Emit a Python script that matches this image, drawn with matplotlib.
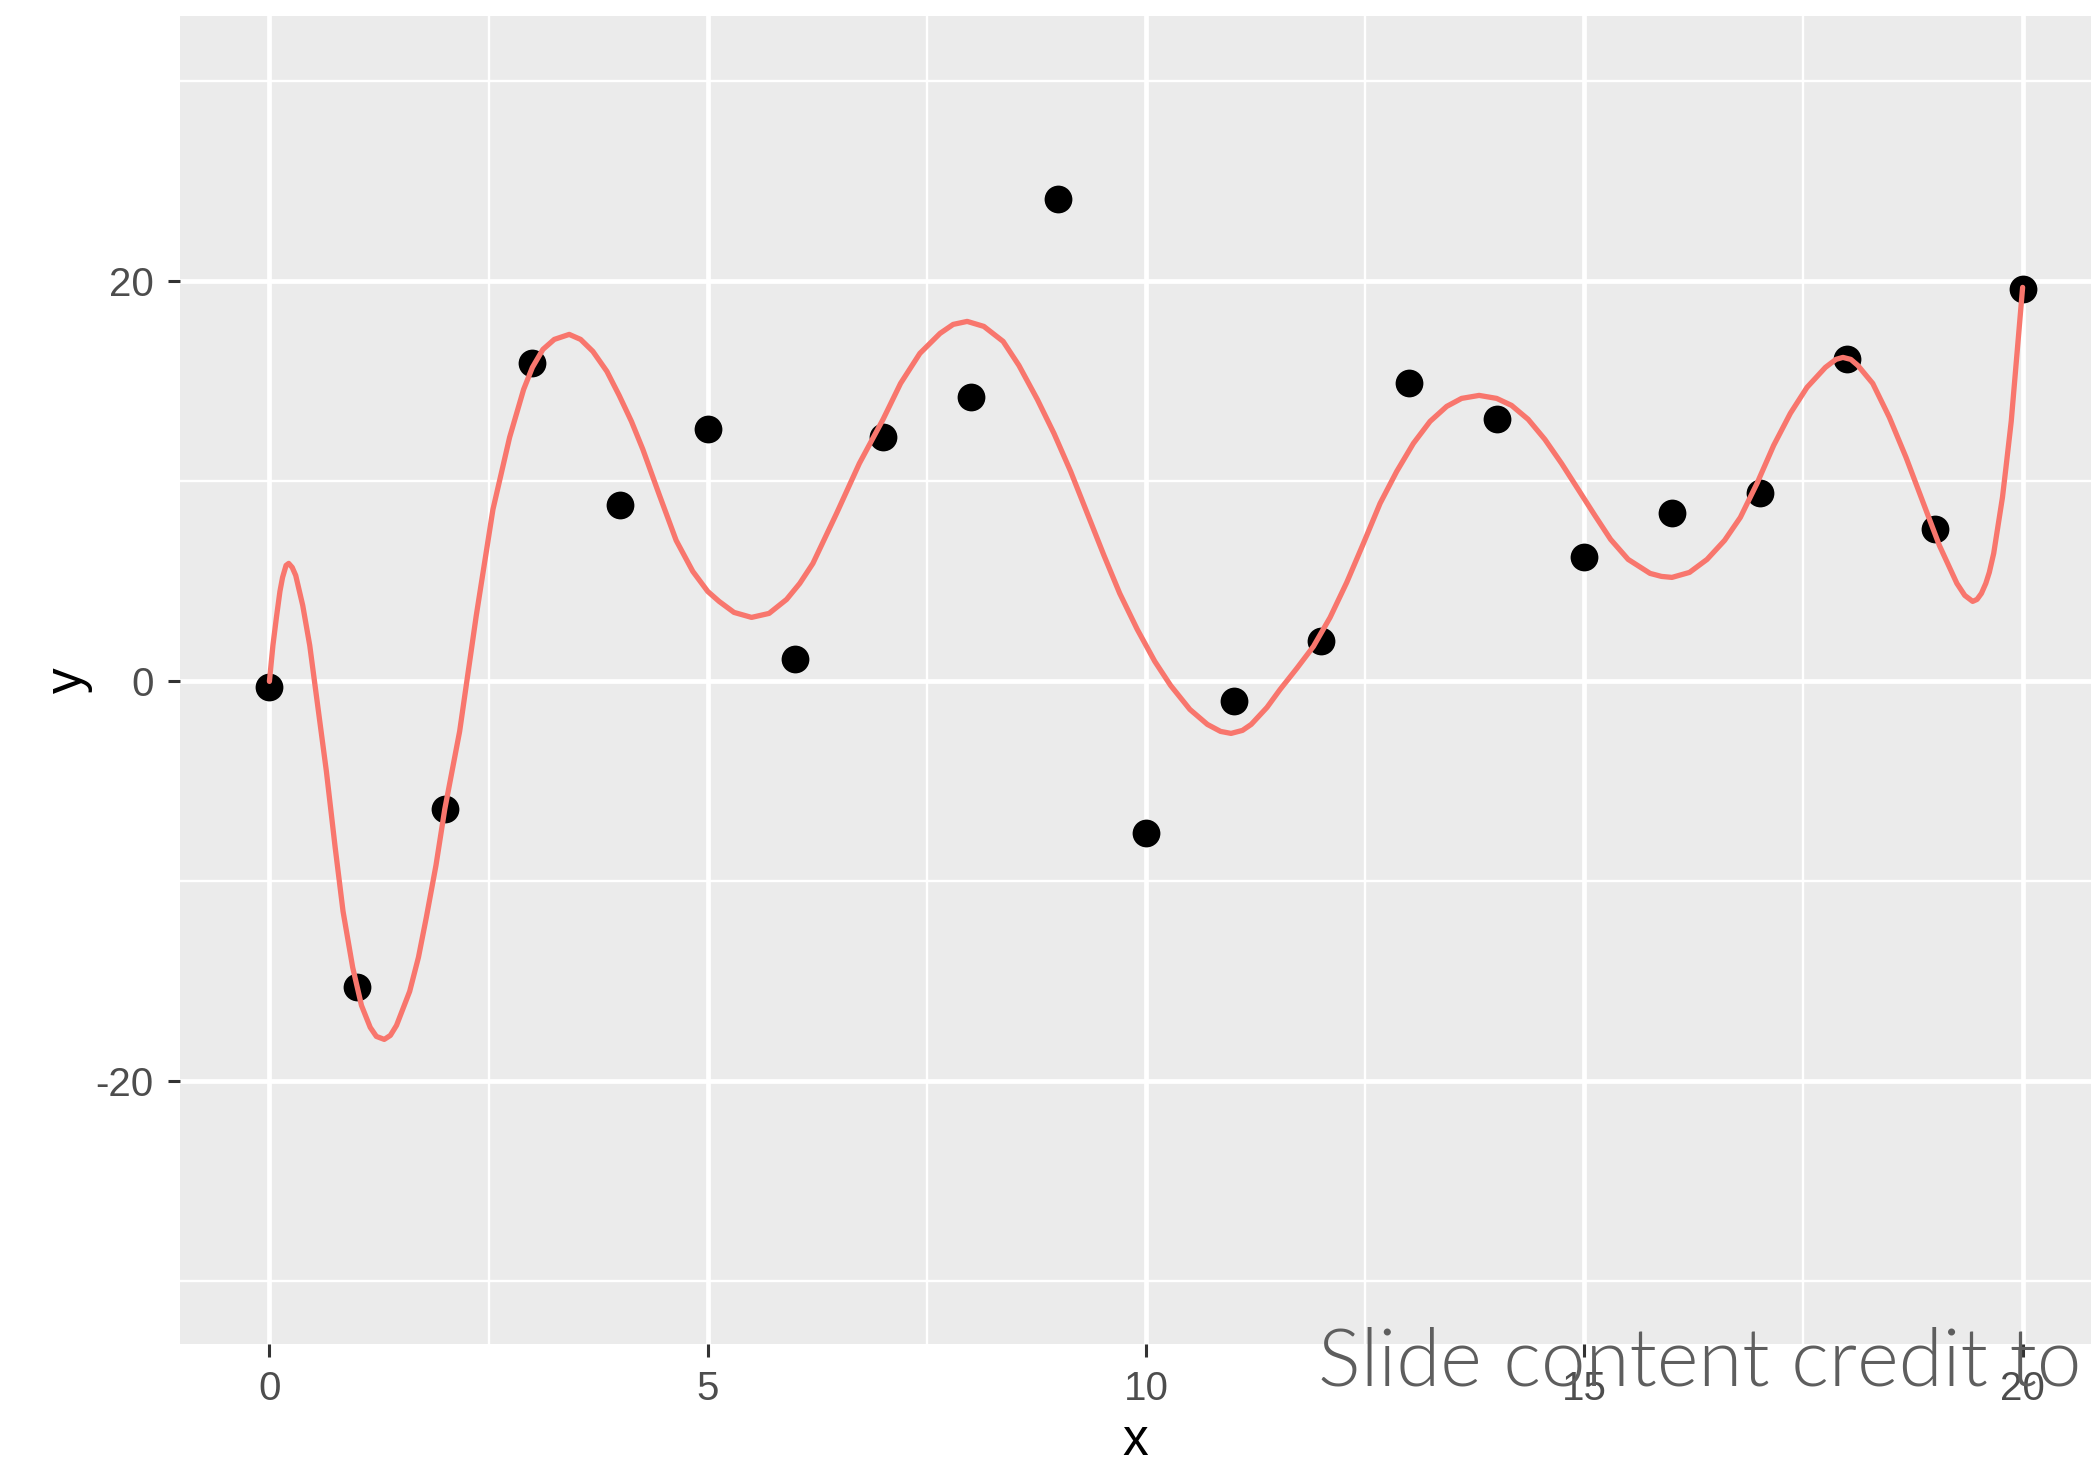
import matplotlib
matplotlib.use("Agg")
import matplotlib.pyplot as plt

plt.rcParams["axes.unicode_minus"] = False

# observed points
x_obs = [0, 1, 2, 3, 4, 5, 6, 7, 8, 9, 10, 11, 12, 13, 14, 15, 16, 17, 18, 19, 20]
y_obs = [-0.3, -15.3, -6.4, 15.9, 8.8, 12.6, 1.1, 12.2, 14.2, 24.1, -7.6,
         -1.0, 2.0, 14.9, 13.1, 6.2, 8.4, 9.4, 16.1, 7.6, 19.6]

# fitted curve, sampled along x
curve_x = [0.00, 0.04, 0.08, 0.12, 0.15, 0.19, 0.22, 0.26, 0.30, 0.38, 0.46,
           0.55, 0.65, 0.75, 0.84, 0.95, 1.05, 1.15, 1.22, 1.31, 1.38, 1.45,
           1.60, 1.70, 1.79, 1.90, 2.00, 2.17, 2.36, 2.55, 2.74, 2.90, 3.00,
           3.12, 3.25, 3.42, 3.55, 3.69, 3.85, 3.99, 4.13, 4.26, 4.45, 4.64,
           4.83, 5.00, 5.13, 5.30, 5.50, 5.70, 5.90, 6.05, 6.20, 6.47, 6.73,
           7.00, 7.20, 7.42, 7.65, 7.80, 7.96, 8.15, 8.37, 8.55, 8.76, 8.95,
           9.14, 9.33, 9.52, 9.70, 9.90, 10.10, 10.28, 10.50, 10.70, 10.85,
           10.97, 11.10, 11.20, 11.38, 11.53, 11.72, 11.91, 12.10, 12.29, 12.48,
           12.67, 12.86, 13.05, 13.24, 13.43, 13.60, 13.80, 14.00, 14.17, 14.36,
           14.55, 14.74, 14.93, 15.12, 15.30, 15.50, 15.75, 15.88, 16.00, 16.20,
           16.40, 16.60, 16.78, 16.97, 17.16, 17.35, 17.54, 17.75, 17.87, 17.95,
           18.04, 18.12, 18.29, 18.48, 18.67, 18.86, 19.05, 19.25, 19.34, 19.43,
           19.48, 19.53, 19.58, 19.62, 19.67, 19.72, 19.77, 19.81, 19.87, 19.92,
           19.96, 20.00]
curve_y = [0.0, 1.8, 3.2, 4.5, 5.2, 5.8, 5.9, 5.7, 5.3, 3.8, 1.8,
           -1.2, -4.5, -8.3, -11.5, -14.3, -16.2, -17.3, -17.75, -17.9, -17.7, -17.2,
           -15.5, -13.8, -11.8, -9.2, -6.4, -2.5, 3.3, 8.6, 12.2, 14.6, 15.7,
           16.6, 17.1, 17.35, 17.1, 16.5, 15.5, 14.3, 13.0, 11.6, 9.3, 7.05,
           5.5, 4.5, 4.0, 3.45, 3.2, 3.4, 4.1, 4.9, 5.9, 8.4, 10.9,
           13.1, 14.9, 16.4, 17.4, 17.85, 18.0, 17.75, 17.0, 15.8, 14.1, 12.4,
           10.5, 8.4, 6.3, 4.4, 2.6, 1.0, -0.2, -1.4, -2.15, -2.5,
           -2.6, -2.45, -2.15, -1.3, -0.4, 0.65, 1.75, 3.2, 4.95, 6.9,
           8.9, 10.5, 11.9, 13.0, 13.75, 14.15, 14.3, 14.15, 13.8, 13.1,
           12.1, 10.9, 9.6, 8.3, 7.1, 6.1, 5.4, 5.25, 5.2, 5.45,
           6.1, 7.05, 8.2, 9.9, 11.8, 13.4, 14.7, 15.7, 16.1, 16.2,
           16.1, 15.8, 14.9, 13.2, 11.2, 9.0, 6.8, 4.9, 4.3, 4.0,
           4.1, 4.4, 4.9, 5.45, 6.4, 7.8, 9.2, 10.7, 13.0, 15.6,
           17.7, 19.7]

x_ticks = [0, 5, 10, 15, 20]
y_ticks = [-20, 0, 20]
x_minor = [2.5, 7.5, 12.5, 17.5]
y_minor = [-30, -10, 10, 30]

W, H = 2091, 1470
fig = plt.figure(figsize=(W / 100, H / 100), dpi=100)
ax = fig.add_axes([180 / W, (H - 1344) / H, (W - 180) / W, (1344 - 16) / H])
ax.set_facecolor("#EBEBEB")

ax.set_xlim(-1.02, 20.78)
ax.set_ylim(-33.13, 33.27)

ax.set_xticks(x_ticks)
ax.set_yticks(y_ticks)
ax.set_xticks(x_minor, minor=True)
ax.set_yticks(y_minor, minor=True)
ax.grid(which="major", color="white", linewidth=3.4)
ax.grid(which="minor", color="white", linewidth=1.7)
ax.set_axisbelow(True)

for s in ax.spines.values():
    s.set_visible(False)

ax.tick_params(which="major", length=9, width=2.2, color="#333333",
               labelsize=29, labelcolor="#4D4D4D", pad=10)
ax.tick_params(which="minor", length=0)
for lab in ax.get_xticklabels() + ax.get_yticklabels():
    lab.set_family("Liberation Sans")

ax.scatter(x_obs, y_obs, s=400, color="black", zorder=3, linewidths=0)
ax.plot(curve_x, curve_y, color="#F8766D", linewidth=3.8, zorder=4,
        solid_capstyle="round", solid_joinstyle="round")

ax.set_xlabel("x", fontsize=37, family="Liberation Sans", labelpad=6)
ax.set_ylabel("y", fontsize=37, family="Liberation Sans", labelpad=2)

fig.text(1318 / W, (H - 1385) / H, "Slide content credit to", fontsize=57.5,
         family="Lato", fontweight=300, color="#5E5E5E",
         ha="left", va="baseline")

fig.savefig("out.png", dpi=100, facecolor="white")
